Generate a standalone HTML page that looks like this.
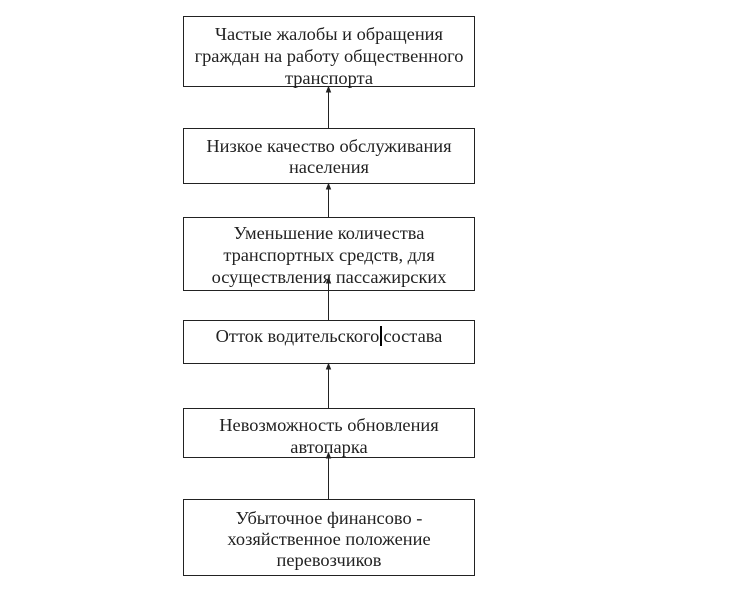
<!DOCTYPE html>
<html><head><meta charset="utf-8"><style>
html,body{margin:0;padding:0;background:#fff;width:754px;height:600px;overflow:hidden}
.b{position:absolute;left:183px;width:292px;border:1px solid #222;box-sizing:border-box;text-align:center;white-space:nowrap;
font-family:"Liberation Serif","Noto Serif CJK SC",serif;font-size:18.4px;color:#222;line-height:22px;background:#fff}
svg{position:absolute;left:0;top:0}
</style></head><body>
<div class="b" style="top:16px;height:71px;padding-top:6px">Частые жалобы и обращения<br>граждан на работу общественного<br>транспорта</div>
<div class="b" style="top:128px;height:56px;padding-top:7px;line-height:21px">Низкое качество обслуживания<br>населения</div>
<div class="b" style="top:217px;height:74px;padding-top:4px">Уменьшение количества<br>транспортных средств, для<br>осуществления пассажирских</div>
<div class="b" style="top:320px;height:44px;padding-top:4px">Отток водительского<span style="border-left:2px solid #000;margin:0 1px"></span>состава</div>
<div class="b" style="top:408px;height:50px;padding-top:5px">Невозможность обновления<br>автопарка</div>
<div class="b" style="top:499px;height:77px;padding-top:8px;line-height:21px">Убыточное финансово -<br>хозяйственное положение<br>перевозчиков</div>
<svg width="754" height="600">
<g stroke="#222" stroke-width="1" fill="#222">
<line x1="328.5" y1="128" x2="328.5" y2="88"/><polygon points="326.5,92 330.5,92 328.5,87"/>
<line x1="328.5" y1="217" x2="328.5" y2="185"/><polygon points="326.5,189 330.5,189 328.5,184"/>
<line x1="328.5" y1="320" x2="328.5" y2="279"/><polygon points="326.5,283 330.5,283 328.5,278"/>
<line x1="328.5" y1="408" x2="328.5" y2="365"/><polygon points="326.5,369 330.5,369 328.5,364"/>
<line x1="328.5" y1="499" x2="328.5" y2="454"/><polygon points="326.5,458 330.5,458 328.5,453"/>
</g></svg>
</body></html>
